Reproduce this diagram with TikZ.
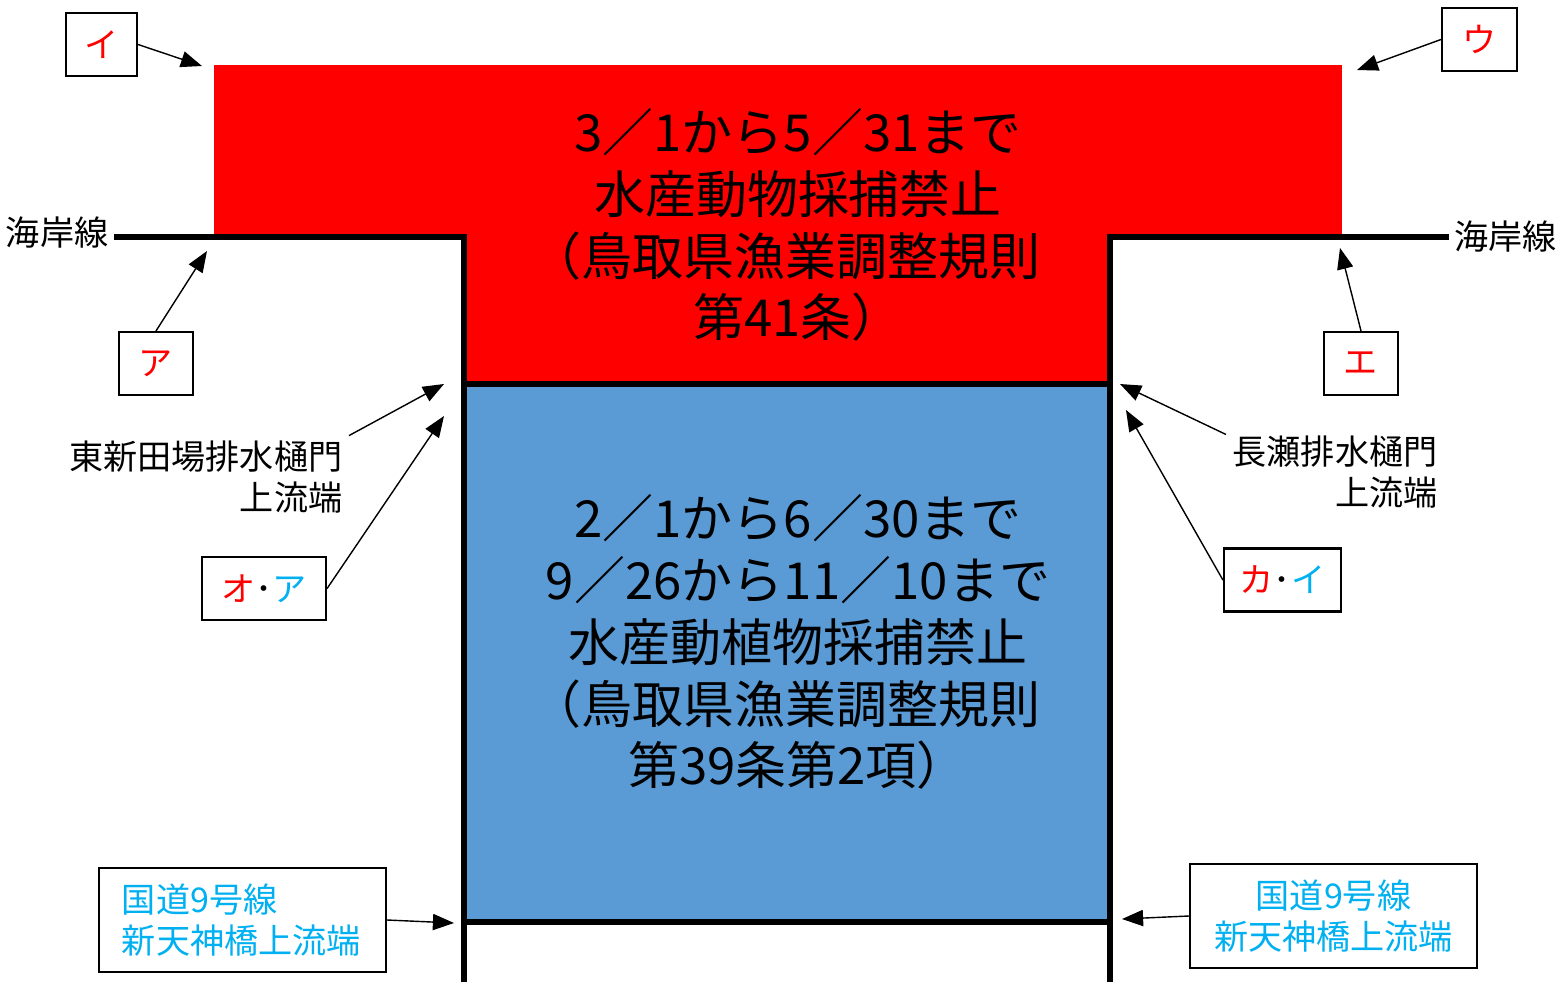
\documentclass[tikz,border=0pt]{standalone}
\usepackage{fontspec}
\newfontfamily\jp{Noto Sans CJK JP}
\usetikzlibrary{arrows.meta}
\definecolor{zonered}{HTML}{FF0000}
\definecolor{zoneblue}{HTML}{5B9BD5}
\definecolor{roadcyan}{HTML}{00B0F0}
\tikzset{
  coast/.style = {line width=1.45pt, line cap=rect},
  pointer/.style = {line width=0.4pt, -{Triangle[length=6pt, width=4.6pt]}},
  tag/.style = {draw, line width=0.6pt, inner sep=0pt, minimum height=0.63cm,
    font=\jp\fontsize{9.7pt}{11.6pt}\selectfont},
  note/.style = {inner sep=0.06cm, font=\jp\fontsize{9.7pt}{11.6pt}\selectfont},
  rule/.style = {align=center, inner sep=0pt, font=\jp\fontsize{14.5pt}{17.6pt}\selectfont}
}
\begin{document}
\begin{tikzpicture}[x=0.01cm, y=-0.01cm]
  \useasboundingbox (0,0) rectangle (1560,981);
  % closed zones
  \fill [zonered] (214,65) rectangle (1342,237);
  \fill [zonered] (464,237) rectangle (1110,384);
  \fill [zoneblue] (464,384) rectangle (1110,922);
  % coast and river banks
  \draw [coast] (117,237) -- (464,237) -- (464,981);
  \draw [coast] (1446,237) -- (1110,237) -- (1110,981);
  \draw [coast] (464,384) -- (1110,384);
  \draw [coast] (464,922) -- (1110,922);
  \node [note, anchor=east] (coastL) at (115,233) {海岸線};
  \node [note, anchor=west] (coastR) at (1448,237) {海岸線};
  % rules
  \node [rule] (ruleRed) at (798,225)
    {3／1から5／31まで\\水産動物採捕禁止\\\kern-0.5em（鳥取県漁業調整規則\\第41条）};
  \node [rule] (ruleBlue) at (798,642)
    {2／1から6／30まで\\9／26から11／10まで\\水産動植物採捕禁止\\\kern-0.5em（鳥取県漁業調整規則\\第39条第2項）};
  % points
  \coordinate (ptI) at (202,66);
  \coordinate (ptU) at (1357,70);
  \coordinate (ptA) at (207,251);
  \coordinate (ptE) at (1340,248);
  \coordinate (ptHigashi) at (444,384);
  \coordinate (ptOA) at (444,416);
  \coordinate (ptNagase) at (1120,384);
  \coordinate (ptKI) at (1126,410);
  \coordinate (ptRoadL) at (454,923);
  \coordinate (ptRoadR) at (1122,919);
  % tags
  \node [tag, minimum width=0.71cm] (tagI) at (101.5,44.5) {\color{zonered}イ};
  \node [tag, minimum width=0.75cm] (tagU) at (1479.5,39.5) {\color{zonered}ウ};
  \node [tag, minimum width=0.74cm] (tagA) at (156,363.5) {\color{zonered}ア};
  \node [tag, minimum width=0.74cm] (tagE) at (1361,363.5) {\color{zonered}エ};
  \node [tag, minimum width=1.24cm] (tagOA) at (264,588.5)
    {{\color{zonered}オ}･{\color{roadcyan}ア}};
  \node [tag, minimum width=1.17cm] (tagKI) at (1282.5,580)
    {{\color{zonered}カ}･{\color{roadcyan}イ}};
  \node [note, align=right, anchor=east] (higashi) at (349,477)
    {東新田場排水樋門\\上流端};
  \node [note, align=right, anchor=west] (nagase) at (1226,472)
    {長瀬排水樋門\\上流端};
  \node [tag, align=left, text=roadcyan, minimum width=2.87cm, minimum height=1.04cm,
    text width=2.41cm] (roadL) at (242.5,920) {国道9号線\\新天神橋上流端};
  \node [tag, align=center, text=roadcyan, minimum width=2.87cm, minimum height=1.04cm]
    (roadR) at (1333.5,916) {国道9号線\\新天神橋上流端};
  % pointers
  \draw [pointer] (tagI.east) -- (ptI);
  \draw [pointer] (tagU.west) -- (ptU);
  \draw [pointer] (tagA.north) -- (ptA);
  \draw [pointer] (tagE.north) -- (ptE);
  \draw [pointer] ([yshift=-0.4pt]higashi.north east) -- (ptHigashi);
  \draw [pointer] (tagOA.east) -- (ptOA);
  \draw [pointer] ([yshift=-1.5pt]nagase.north west) -- (ptNagase);
  \draw [pointer] (tagKI.west) -- (ptKI);
  \draw [pointer] (roadL.east) -- (ptRoadL);
  \draw [pointer] (roadR.west) -- (ptRoadR);
\end{tikzpicture}
\end{document}
